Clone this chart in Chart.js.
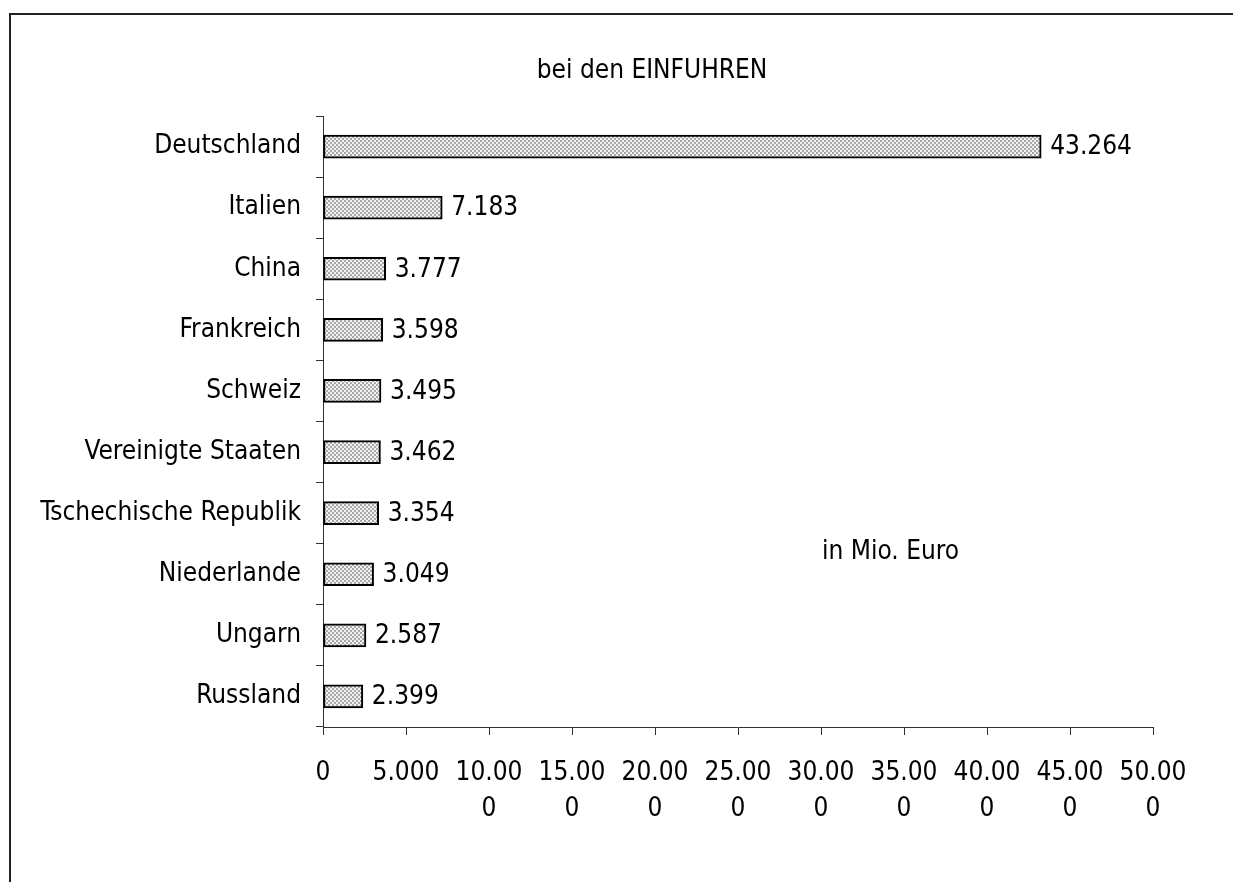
<!DOCTYPE html>
<html>
<head>
<meta charset="utf-8">
<script src="https://cdn.jsdelivr.net/npm/chart.js@4.4.1/dist/chart.umd.min.js"></script>
<style>
  html, body { margin: 0; padding: 0; background: #ffffff; }
  #wrap { width: 1233px; height: 882px; position: relative; }
</style>
</head>
<body>
<div id="wrap"><canvas id="c" width="1233" height="882"></canvas></div>
<script>
const categories = ['Deutschland', 'Italien', 'China', 'Frankreich', 'Schweiz', 'Vereinigte Staaten', 'Tschechische Republik', 'Niederlande', 'Ungarn', 'Russland'];
const imports = [43264, 7183, 3777, 3598, 3495, 3462, 3354, 3049, 2587, 2399];
const xTickLabels = ['0', '5.000', ['10.00', '0'], ['15.00', '0'], ['20.00', '0'], ['25.00', '0'], ['30.00', '0'], ['35.00', '0'], ['40.00', '0'], ['45.00', '0'], ['50.00', '0']];
const chartTitle = 'bei den EINFUHREN';
const unitNote = 'in Mio. Euro';

const FONT = "'DejaVu Sans Condensed', 'DejaVu Sans', sans-serif";
const FSIZE = 26;

function fmtDE(v) {
  return String(v).replace(/\B(?=(\d{3})+(?!\d))/g, '.');
}

function makePattern() {
  const p = document.createElement('canvas');
  p.width = 4; p.height = 4;
  const g = p.getContext('2d');
  g.fillStyle = '#f2f2f2';
  g.fillRect(0, 0, 4, 4);
  g.fillStyle = '#a8a8a8';
  g.fillRect(0, 0, 2, 2);
  g.fillRect(2, 2, 2, 2);
  return document.getElementById('c').getContext('2d').createPattern(p, 'repeat');
}

const decorPlugin = {
  id: 'decor',
  beforeDraw(chart) {
    const ctx = chart.ctx;
    ctx.save();
    ctx.fillStyle = '#ffffff';
    ctx.fillRect(0, 0, chart.width, chart.height);
    ctx.strokeStyle = '#222222';
    ctx.lineWidth = 2;
    ctx.strokeRect(10, 14, 1400, 1000);
    ctx.restore();
  },
  afterDatasetsDraw(chart) {
    const ctx = chart.ctx;
    const meta = chart.getDatasetMeta(0);
    ctx.save();
    ctx.font = FSIZE + 'px ' + FONT;
    ctx.fillStyle = '#000000';
    ctx.textAlign = 'left';
    ctx.textBaseline = 'middle';
    meta.data.forEach((bar, i) => {
      ctx.fillText(fmtDE(imports[i]), bar.x + 9, bar.y + 1);
    });
    ctx.textAlign = 'center';
    ctx.fillText(chartTitle, 652, 71);
    ctx.textAlign = 'left';
    ctx.fillText(unitNote, 822, 552);
    ctx.restore();
  }
};

new Chart(document.getElementById('c'), {
  type: 'bar',
  data: {
    labels: categories,
    datasets: [{
      data: imports,
      backgroundColor: makePattern(),
      borderColor: '#000000',
      borderWidth: 2,
      borderSkipped: false,
      barThickness: 23
    }]
  },
  options: {
    indexAxis: 'y',
    responsive: false,
    animation: false,
    devicePixelRatio: 1,
    layout: { padding: { top: 116, right: 80, left: 0, bottom: 0 } },
    plugins: {
      legend: { display: false },
      title: { display: false },
      tooltip: { enabled: false }
    },
    scales: {
      x: {
        min: 0,
        max: 50000,
        afterFit(scale) { scale.height = 155; },
        ticks: {
          stepSize: 5000,
          autoSkip: false,
          maxRotation: 0,
          minRotation: 0,
          color: '#000000',
          padding: 20,
          font: { family: FONT, size: FSIZE, lineHeight: 1.4 },
          callback: (v, i) => xTickLabels[i]
        },
        grid: {
          drawOnChartArea: false,
          drawTicks: true,
          tickLength: 8,
          color: '#333333'
        },
        border: { display: true, color: '#333333', width: 1 }
      },
      y: {
        afterFit(scale) { scale.width = 323; },
        ticks: {
          color: '#000000',
          padding: 15,
          font: { family: FONT, size: FSIZE }
        },
        grid: {
          offset: true,
          drawOnChartArea: false,
          drawTicks: true,
          tickLength: 7,
          color: '#333333'
        },
        border: { display: true, color: '#333333', width: 1 }
      }
    }
  },
  plugins: [decorPlugin]
});
</script>
</body>
</html>
